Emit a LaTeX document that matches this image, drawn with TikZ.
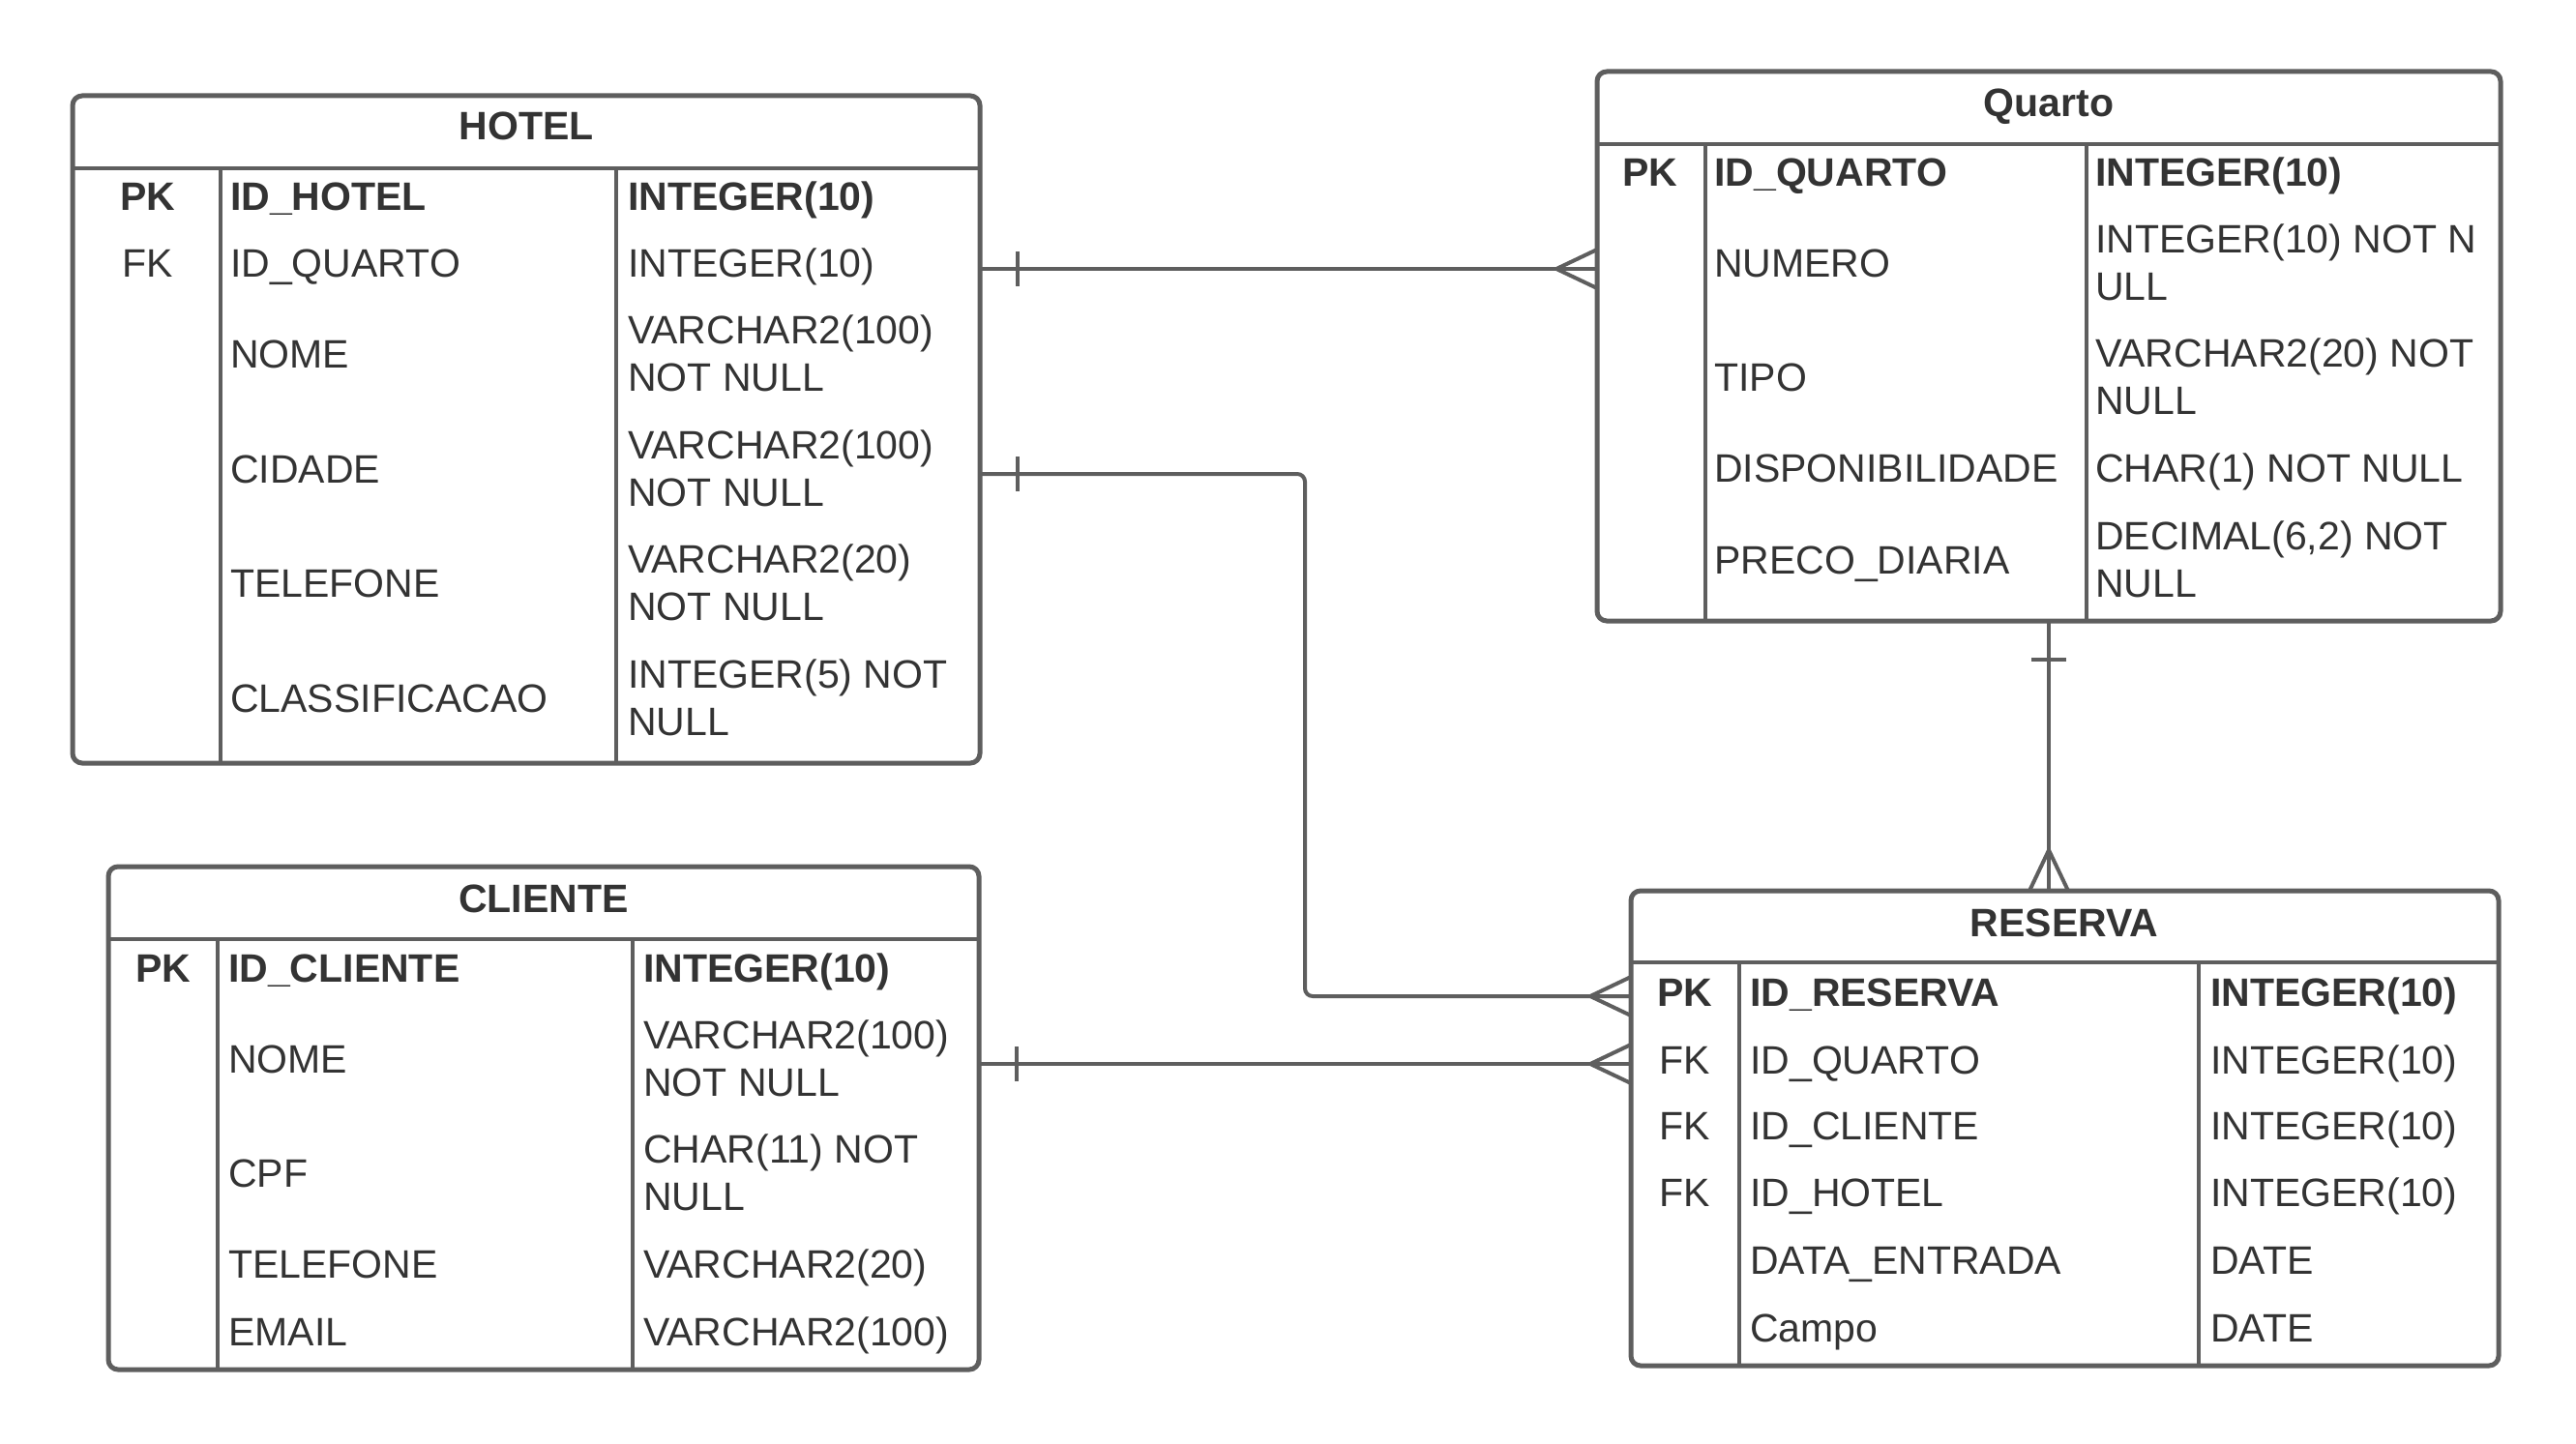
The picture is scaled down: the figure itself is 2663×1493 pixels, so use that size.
\documentclass[tikz,border=0pt]{standalone}
\usepackage{fontspec}
\setmainfont{Liberation Sans}
\definecolor{erline}{HTML}{5E5E5E}
\definecolor{ertext}{HTML}{333333}
\tikzset{
  tbl/.style={draw=erline, line width=5pt, rounded corners=10pt, outer sep=0pt, inner sep=0pt, anchor=north west},
  sep/.style={draw=erline, line width=4.5pt},
  rel/.style={draw=erline, line width=4pt},
  cell/.style={anchor=west, inner sep=0pt, text=ertext, text height=30pt, text depth=0pt},
  key/.style={cell, anchor=center},
  ttl/.style={key, font=\bfseries},
  cellii/.style={anchor=west, inner sep=0pt, text=ertext, align=left},
  crow/.pic={\draw[rel] (-42,0) -- (0,-20) (-42,0) -- (0,20);},
  bar/.pic={\draw[rel] (0,-18) -- (0,18);},
}
\begin{document}
\fontsize{41}{49}\selectfont
\begin{tikzpicture}[x=1pt,y=-1pt]
    \useasboundingbox (0,0) rectangle (2663,1493);

    % HOTEL
    \node[tbl, minimum width=938pt, minimum height=690pt] (hotel) at (75,99) {};
    \draw[sep] (hotel.west |- 0,174) -- (hotel.east |- 0,174);
    \draw[sep] (228,174) -- (228,0 |- hotel.south);
    \draw[sep] (637,174) -- (637,0 |- hotel.south);
    \node[ttl] (hotel-t) at (544,130) {HOTEL};
    \node[key] (hotel-k1) at (153,202) {\textbf{PK}};
    \node[cell] (hotel-n1) at (238,202) {\textbf{ID\_HOTEL}};
    \node[cell] (hotel-d1) at (649,202) {\textbf{INTEGER(10)}};
    \node[key] (hotel-k2) at (153,271) {FK};
    \node[cell] (hotel-n2) at (238,271) {ID\_QUARTO};
    \node[cell] (hotel-d2) at (649,271) {INTEGER(10)};
    \node[cell] (hotel-n3) at (238,365) {NOME};
    \node[cellii] (hotel-d3) at (649,365) {VARCHAR2(100)\\NOT NULL};
    \node[cell] (hotel-n4) at (238,484) {CIDADE};
    \node[cellii] (hotel-d4) at (649,484) {VARCHAR2(100)\\NOT NULL};
    \node[cell] (hotel-n5) at (238,602) {TELEFONE};
    \node[cellii] (hotel-d5) at (649,602) {VARCHAR2(20)\\NOT NULL};
    \node[cell] (hotel-n6) at (238,721) {CLASSIFICACAO};
    \node[cellii] (hotel-d6) at (649,721) {INTEGER(5) NOT\\NULL};

    % Quarto
    \node[tbl, minimum width=934pt, minimum height=568pt] (quarto) at (1651,74) {};
    \draw[sep] (quarto.west |- 0,149) -- (quarto.east |- 0,149);
    \draw[sep] (1763,149) -- (1763,0 |- quarto.south);
    \draw[sep] (2157,149) -- (2157,0 |- quarto.south);
    \node[ttl] (quarto-t) at (2118,106) {Quarto};
    \node[key] (quarto-k1) at (1706,177) {\textbf{PK}};
    \node[cell] (quarto-n1) at (1772,177) {\textbf{ID\_QUARTO}};
    \node[cell] (quarto-d1) at (2166,177) {\textbf{INTEGER(10)}};
    \node[cell] (quarto-n2) at (1772,271) {NUMERO};
    \node[cellii] (quarto-d2) at (2166,271) {INTEGER(10) NOT N\\ULL};
    \node[cell] (quarto-n3) at (1772,389) {TIPO};
    \node[cellii] (quarto-d3) at (2166,389) {VARCHAR2(20) NOT\\NULL};
    \node[cell] (quarto-n4) at (1772,483) {DISPONIBILIDADE};
    \node[cell] (quarto-d4) at (2166,483) {CHAR(1) NOT NULL};
    \node[cell] (quarto-n5) at (1772,578) {PRECO\_DIARIA};
    \node[cellii] (quarto-d5) at (2166,578) {DECIMAL(6,2) NOT\\NULL};

    % RESERVA
    \node[tbl, minimum width=897pt, minimum height=491pt] (reserva) at (1686,921) {};
    \draw[sep] (reserva.west |- 0,995) -- (reserva.east |- 0,995);
    \draw[sep] (1798,995) -- (1798,0 |- reserva.south);
    \draw[sep] (2273,995) -- (2273,0 |- reserva.south);
    \node[ttl] (reserva-t) at (2134,953) {RESERVA};
    \node[key] (reserva-k1) at (1742,1025) {\textbf{PK}};
    \node[cell] (reserva-n1) at (1809,1025) {\textbf{ID\_RESERVA}};
    \node[cell] (reserva-d1) at (2285,1025) {\textbf{INTEGER(10)}};
    \node[key] (reserva-k2) at (1742,1095) {FK};
    \node[cell] (reserva-n2) at (1809,1095) {ID\_QUARTO};
    \node[cell] (reserva-d2) at (2285,1095) {INTEGER(10)};
    \node[key] (reserva-k3) at (1742,1163) {FK};
    \node[cell] (reserva-n3) at (1809,1163) {ID\_CLIENTE};
    \node[cell] (reserva-d3) at (2285,1163) {INTEGER(10)};
    \node[key] (reserva-k4) at (1742,1232) {FK};
    \node[cell] (reserva-n4) at (1809,1232) {ID\_HOTEL};
    \node[cell] (reserva-d4) at (2285,1232) {INTEGER(10)};
    \node[cell] (reserva-n5) at (1809,1302) {DATA\_ENTRADA};
    \node[cell] (reserva-d5) at (2285,1302) {DATE};
    \node[cell] (reserva-n6) at (1809,1372) {Campo};
    \node[cell] (reserva-d6) at (2285,1372) {DATE};

    % CLIENTE
    \node[tbl, minimum width=900pt, minimum height=520pt] (cliente) at (112,896) {};
    \draw[sep] (cliente.west |- 0,971) -- (cliente.east |- 0,971);
    \draw[sep] (225,971) -- (225,0 |- cliente.south);
    \draw[sep] (654,971) -- (654,0 |- cliente.south);
    \node[ttl] (cliente-t) at (562,928) {CLIENTE};
    \node[key] (cliente-k1) at (169,1000) {\textbf{PK}};
    \node[cell] (cliente-n1) at (236,1000) {\textbf{ID\_CLIENTE}};
    \node[cell] (cliente-d1) at (665,1000) {\textbf{INTEGER(10)}};
    \node[cell] (cliente-n2) at (236,1094) {NOME};
    \node[cellii] (cliente-d2) at (665,1094) {VARCHAR2(100)\\NOT NULL};
    \node[cell] (cliente-n3) at (236,1212) {CPF};
    \node[cellii] (cliente-d3) at (665,1212) {CHAR(11) NOT\\NULL};
    \node[cell] (cliente-n4) at (236,1306) {TELEFONE};
    \node[cell] (cliente-d4) at (665,1306) {VARCHAR2(20)};
    \node[cell] (cliente-n5) at (236,1376) {EMAIL};
    \node[cell] (cliente-d5) at (665,1376) {VARCHAR2(100)};

    % relationships
    \draw[rel] (hotel.east |- 0,278) -- (quarto.west |- 0,278);
    \pic at ([xshift=39pt]hotel.east |- 0,278) {bar};
    \pic at (quarto.west |- 0,278) {crow};

    \draw[rel, rounded corners=8pt] (hotel.east |- 0,490) -- (1349,490) -- (1349,1030) -- (reserva.west |- 0,1030);
    \pic at ([xshift=39pt]hotel.east |- 0,490) {bar};
    \pic at (reserva.west |- 0,1030) {crow};

    \draw[rel] (cliente.east |- 0,1100) -- (reserva.west |- 0,1100);
    \pic at ([xshift=39pt]cliente.east |- 0,1100) {bar};
    \pic at (reserva.west |- 0,1100) {crow};

    \draw[rel] (quarto.south) -- (quarto.south |- reserva.north);
    \pic[rotate=90] at ([yshift=-40pt]quarto.south) {bar};
    \pic[rotate=-90] at (quarto.south |- reserva.north) {crow};
\end{tikzpicture}
\end{document}
